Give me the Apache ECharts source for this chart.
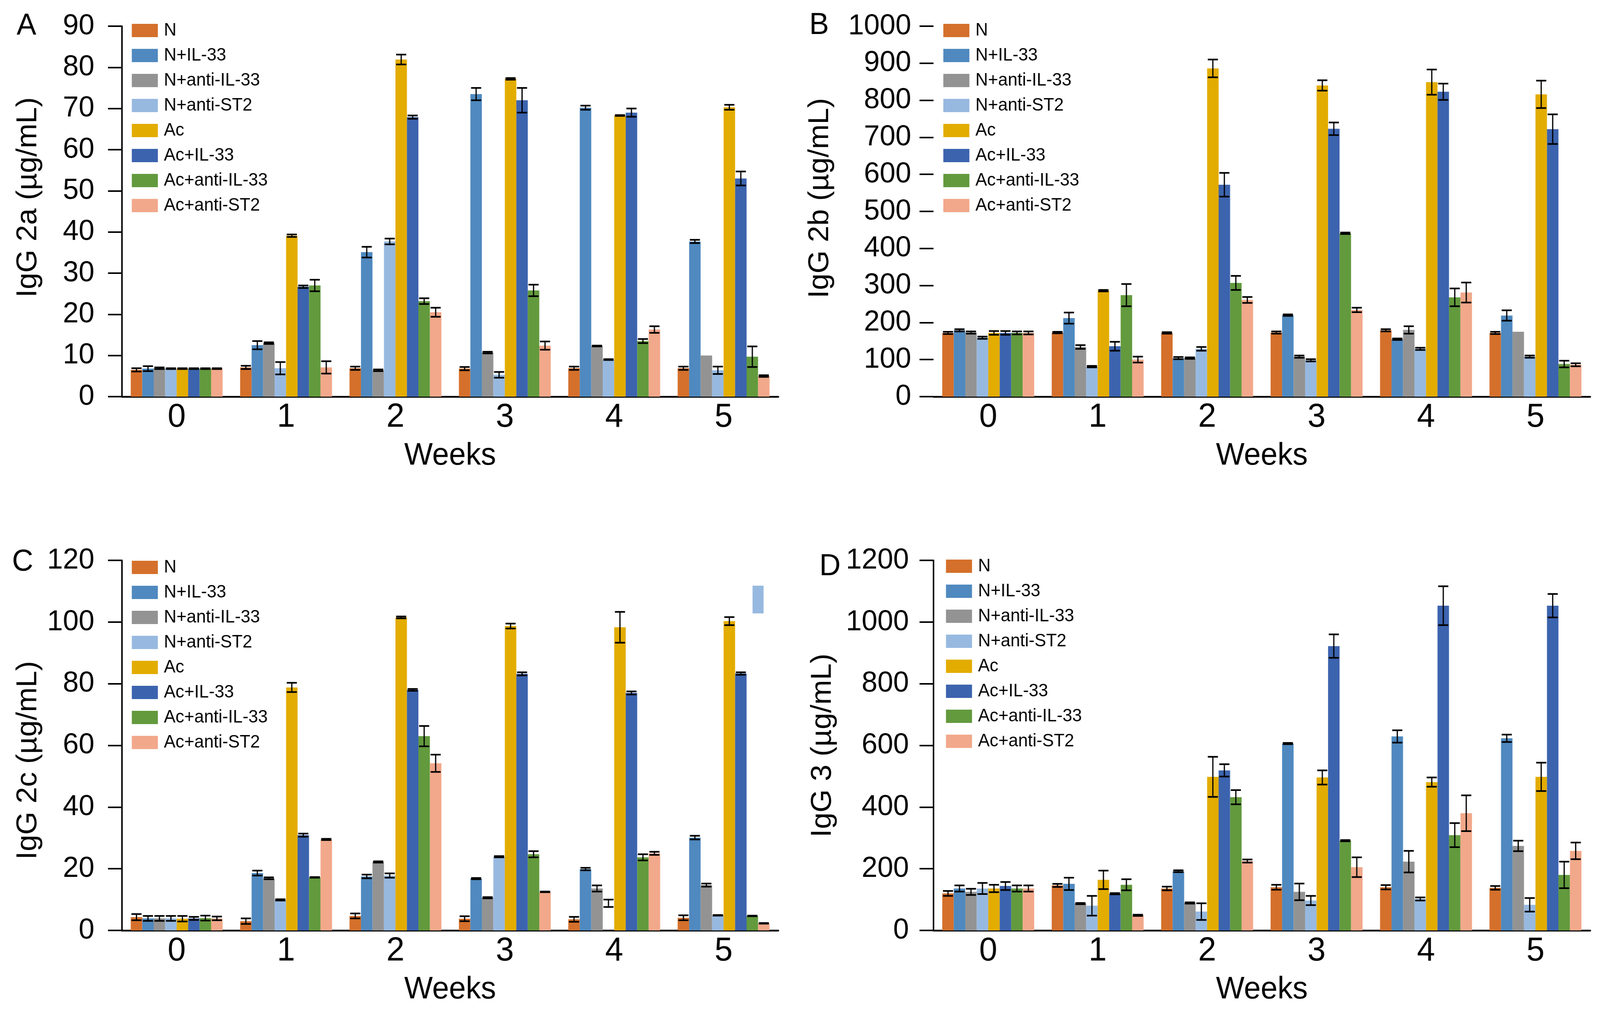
<!DOCTYPE html>
<html>
<head>
<meta charset="utf-8">
<script src="https://cdn.jsdelivr.net/npm/echarts@6/dist/echarts.min.js"></script>
<style>
html,body{margin:0;padding:0;background:#fff;overflow:hidden;}
#c{width:4237px;height:2600px;}
</style>
</head>
<body>
<div id="c"></div>
<script>
// ---------- data ----------
const weeks = ['0', '1', '2', '3', '4', '5'];
const groups = ['N', 'N+IL-33', 'N+anti-IL-33', 'N+anti-ST2', 'Ac', 'Ac+IL-33', 'Ac+anti-IL-33', 'Ac+anti-ST2'];

// IgG 2a (µg/mL): rows = groups, columns = weeks
const igg2aMean = [
  [6.5, 7.1, 6.9, 6.8, 6.9, 6.9],
  [6.8, 12.5, 35.1, 73.5, 70.2, 37.7],
  [6.9, 13.0, 6.4, 10.7, 12.3, 10.0],
  [6.8, 6.9, 37.7, 5.3, 9.0, 6.4],
  [6.8, 39.1, 81.9, 77.2, 68.3, 70.3],
  [6.8, 26.7, 67.9, 72.0, 69.0, 53.0],
  [6.8, 27.0, 23.2, 25.8, 13.5, 9.7],
  [6.8, 7.1, 20.5, 12.4, 16.3, 5.0]
];
const igg2aErr = [
  [0.4, 0.4, 0.4, 0.4, 0.4, 0.4],
  [0.6, 1.0, 1.3, 1.5, 0.5, 0.4],
  [0.2, 0.2, 0.2, 0.2, 0.1, 0],
  [0.1, 1.5, 0.7, 0.7, 0.1, 0.9],
  [0.1, 0.3, 1.2, 0.2, 0.1, 0.6],
  [0.1, 0.3, 0.4, 3.0, 1.0, 1.7],
  [0.1, 1.4, 0.7, 1.4, 0.5, 2.5],
  [0.1, 1.5, 1.1, 1.0, 0.8, 0.2]
];

// IgG 2b (µg/mL)
const igg2bMean = [
  [172, 173, 172, 173, 179, 172],
  [179, 212, 104, 220, 155, 219],
  [173, 134, 104, 108, 180, 175],
  [159, 81, 129, 98, 129, 108],
  [172, 286, 886, 840, 849, 816],
  [172, 136, 572, 723, 823, 722],
  [172, 274, 307, 441, 268, 88],
  [172, 100, 261, 234, 281, 86]
];
const igg2bErr = [
  [3, 2, 2, 3, 3, 3],
  [3, 15, 3, 2, 2, 14],
  [3, 5, 2, 3, 10, 0],
  [3, 2, 5, 3, 3, 3],
  [5, 2, 24, 14, 34, 37],
  [5, 12, 32, 17, 22, 40],
  [4, 30, 19, 2, 24, 9],
  [4, 8, 8, 6, 27, 4]
];

// IgG 2c (µg/mL)
const igg2cMean = [
  [4.3, 3.0, 4.7, 3.8, 3.6, 4.1],
  [3.9, 18.6, 17.5, 16.8, 19.9, 30.1],
  [3.9, 16.9, 22.2, 10.6, 13.6, 14.7],
  [3.9, 9.9, 17.8, 23.9, 8.8, 4.9],
  [3.8, 78.8, 101.5, 98.7, 98.3, 100.3],
  [3.9, 30.9, 78.0, 83.2, 77.0, 83.3],
  [4.0, 17.2, 63.0, 24.7, 23.7, 4.7],
  [3.9, 29.5, 54.2, 12.5, 25.0, 2.3]
];
const igg2cErr = [
  [1.0, 0.9, 0.8, 0.8, 0.8, 0.8],
  [0.8, 0.8, 0.6, 0.2, 0.4, 0.6],
  [0.8, 0.3, 0.2, 0.2, 1.0, 0.5],
  [0.8, 0.2, 0.7, 0.2, 1.2, 0.1],
  [0.9, 1.5, 0.3, 0.8, 5.0, 1.3],
  [0.5, 0.5, 0.3, 0.5, 0.5, 0.4],
  [0.8, 0.1, 3.3, 1.0, 1.0, 0.1],
  [0.6, 0.2, 2.8, 0.1, 0.5, 0.1]
];
// bar whose fill is missing in the original (panel C, N+anti-ST2, week 4): [group, week]
const igg2cUnfilled = [[3, 4]];
// stray light-blue block in panel C near week 5: [week, from, to]
const igg2cStray = [[5, 102.8, 111.8]];

// IgG 3 (µg/mL)
const igg3Mean = [
  [120, 146, 136, 140, 140, 138],
  [136, 151, 192, 606, 629, 623],
  [125, 87, 89, 125, 223, 274],
  [136, 80, 61, 97, 102, 83],
  [136, 164, 498, 496, 481, 498],
  [144, 119, 519, 922, 1053, 1053],
  [136, 148, 432, 291, 309, 180],
  [136, 49, 225, 205, 380, 258]
];
const igg3Err = [
  [8, 5, 6, 8, 7, 6],
  [10, 20, 3, 2, 20, 12],
  [10, 2, 2, 27, 35, 17],
  [18, 32, 27, 15, 5, 22],
  [12, 30, 65, 23, 15, 46],
  [13, 2, 20, 38, 63, 38],
  [10, 18, 23, 2, 39, 43],
  [10, 2, 5, 32, 58, 27]
];

// ---------- style ----------
const colors = ['#D4702B', '#4F89BF', '#939393', '#97B9E0', '#E3AC00', '#3C63AE', '#629A3D', '#F2A88A'];
const FONT = '"Liberation Sans", Arial, Helvetica, sans-serif';
const CAT_GAP = 0.16;

const panels = [
  {letter: 'A', lx: 70, ly: 67, mean: igg2aMean, err: igg2aErr, yMax: 90, yInt: 10, yTitle: 'IgG 2a (µg/mL)',
   left: 323, top: 67, width: 1738, height: 948, showYLine: true, nameGap: 210, namePad: [0, 0, 0, 72], labelMargin: 73,
   legLeft: 349, legTop: 55},
  {letter: 'B', lx: 2169, ly: 65, mean: igg2bMean, err: igg2bErr, yMax: 1000, yInt: 100, yTitle: 'IgG 2b (µg/mL)',
   left: 2472, top: 67, width: 1739, height: 948, showYLine: false, nameGap: 262, namePad: [0, 0, 0, 68], labelMargin: 59,
   legLeft: 2498, legTop: 55},
  {letter: 'C', lx: 60, ly: 1438, mean: igg2cMean, err: igg2cErr, yMax: 120, yInt: 20, yTitle: 'IgG 2c (µg/mL)',
   left: 323, top: 1434, width: 1738, height: 947, showYLine: true, nameGap: 210, namePad: [0, 76, 0, 0], labelMargin: 73,
   legLeft: 349, legTop: 1429, unfilled: igg2cUnfilled, stray: igg2cStray},
  {letter: 'D', lx: 2198, ly: 1450, mean: igg3Mean, err: igg3Err, yMax: 1200, yInt: 200, yTitle: 'IgG 3 (µg/mL)',
   left: 2472, top: 1434, width: 1739, height: 947, showYLine: true, nameGap: 255, namePad: [0, 0, 0, 0], labelMargin: 65,
   legLeft: 2505, legTop: 1426}
];

function barWidthOf(api) {
  const band = api.size([1, 0])[0];
  return band * (1 - CAT_GAP) / groups.length;
}

function renderErr(params, api) {
  const week = api.value(0), gi = api.value(1), m = api.value(2), e = api.value(3);
  if (!(e > 0)) return null;
  const bw = barWidthOf(api);
  const cx = api.coord([week, 0])[0] + (gi - (groups.length - 1) / 2) * bw;
  const yT = api.coord([week, m + e])[1];
  const yB = api.coord([week, m - e])[1];
  const hc = bw * 0.44;
  const st = {stroke: '#000', lineWidth: 3.2};
  const sc = {stroke: '#000', lineWidth: 4.2};
  return {type: 'group', children: [
    {type: 'line', shape: {x1: cx, y1: yT, x2: cx, y2: yB}, style: st},
    {type: 'line', shape: {x1: cx - hc, y1: yT, x2: cx + hc, y2: yT}, style: sc},
    {type: 'line', shape: {x1: cx - hc, y1: yB, x2: cx + hc, y2: yB}, style: sc}
  ]};
}

function renderStray(params, api) {
  const week = api.value(0), v0 = api.value(1), v1 = api.value(2);
  const bw = barWidthOf(api);
  const cx = api.coord([week, 0])[0] + 3 * bw;
  const y0 = api.coord([week, v1])[1];
  const y1 = api.coord([week, v0])[1];
  return {type: 'rect', shape: {x: cx - bw * 0.48, y: y0, width: bw * 0.96, height: y1 - y0},
          style: {fill: colors[3]}};
}

const option = {animation: false, backgroundColor: '#fff', grid: [], xAxis: [], yAxis: [], legend: [], series: [], graphic: []};

panels.forEach((p, pi) => {
  option.grid.push({left: p.left, top: p.top, width: p.width, height: p.height, containLabel: false});
  option.xAxis.push({
    type: 'category', gridIndex: pi, data: weeks,
    name: 'Weeks', nameLocation: 'middle', nameGap: 112,
    nameTextStyle: {fontSize: 80, color: '#000', fontFamily: FONT},
    axisTick: {show: false},
    axisLine: {lineStyle: {color: '#000', width: 4.5}},
    axisLabel: {fontSize: 86, color: '#000', margin: 10, fontFamily: FONT}
  });
  option.yAxis.push({
    type: 'value', gridIndex: pi, min: 0, max: p.yMax, interval: p.yInt,
    name: p.yTitle, nameLocation: 'middle', nameGap: p.nameGap,
    nameTextStyle: {fontSize: 76, color: '#000', fontFamily: FONT, padding: p.namePad},
    axisLine: {show: p.showYLine, lineStyle: {color: '#000', width: 4}},
    axisTick: {show: true, length: 37, lineStyle: {color: '#000', width: 4}},
    axisLabel: {fontSize: 75, color: '#000', margin: p.labelMargin, fontFamily: FONT,
                formatter: v => String(v)},
    splitLine: {show: false}
  });
  option.legend.push({
    orient: 'vertical', left: p.legLeft, top: p.legTop, data: groups, icon: 'rect',
    itemWidth: 69, itemHeight: 34, itemGap: 18, selectedMode: false, padding: 0,
    textStyle: {fontSize: 46, color: '#000', fontFamily: FONT, padding: [0, 0, 0, 11]}
  });
  const unf = p.unfilled || [];
  groups.forEach((g, gi) => {
    option.series.push({
      type: 'bar', name: g, xAxisIndex: pi, yAxisIndex: pi,
      barGap: '0%', barCategoryGap: (CAT_GAP * 100) + '%',
      itemStyle: {color: colors[gi]},
      data: p.mean[gi].map((v, wi) => {
        const hidden = unf.some(u => u[0] === gi && u[1] === wi);
        return hidden ? {value: v, itemStyle: {opacity: 0}} : v;
      })
    });
  });
  const errData = [];
  groups.forEach((g, gi) => {
    weeks.forEach((w, wi) => errData.push([wi, gi, p.mean[gi][wi], p.err[gi][wi]]));
  });
  option.series.push({
    type: 'custom', name: 'err' + p.letter, xAxisIndex: pi, yAxisIndex: pi, z: 10,
    renderItem: renderErr, encode: {x: 0, y: 2}, data: errData, silent: true
  });
  if (p.stray) {
    option.series.push({
      type: 'custom', name: 'stray' + p.letter, xAxisIndex: pi, yAxisIndex: pi, z: 3,
      renderItem: renderStray, encode: {x: 0, y: [1, 2]}, data: p.stray, silent: true
    });
  }
  option.graphic.push({
    type: 'text', x: p.lx, y: p.ly,
    style: {text: p.letter, fontSize: 78, fontFamily: FONT, fill: '#000', align: 'center', verticalAlign: 'middle'}
  });
});

// fit the 4237x2600 design into whatever viewport the page gets
const el = document.getElementById('c');
const vw = window.innerWidth || 4237, vh = window.innerHeight || 2600;
const sx = vw / 4237, sy = vh / 2600;
if (Math.abs(sx - 1) > 0.001 || Math.abs(sy - 1) > 0.001) {
  el.style.transformOrigin = '0 0';
  el.style.transform = 'scale(' + sx + ',' + sy + ')';
}
const chart = echarts.init(el, null, {renderer: 'canvas', width: 4237, height: 2600});
chart.setOption(option);
</script>
</body>
</html>
